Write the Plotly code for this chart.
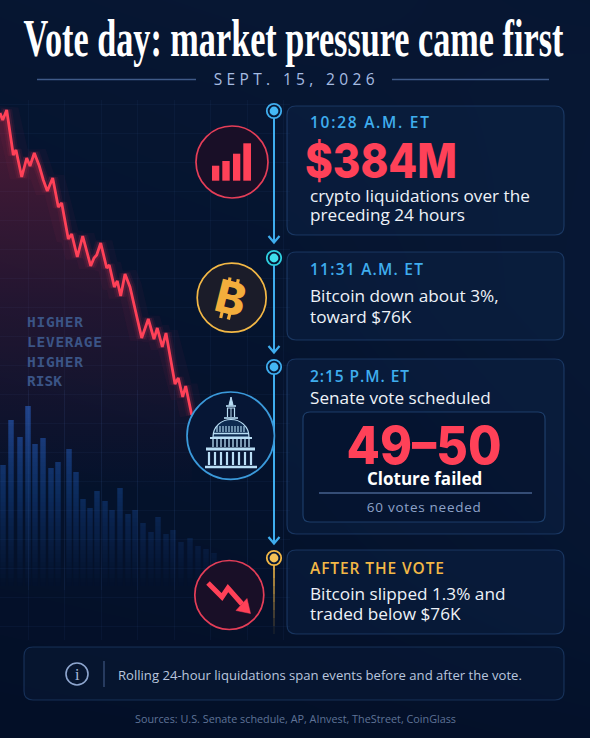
import json
import numpy as np
import plotly.graph_objects as go

# values
price_t = [0,2.7,6.7,13.3,16,21.7,26.7,30,34.3,39.3,43.3,47.3,52.7,58.3,61.7,68.3,71.7,77.3,82.7,90.7,94,96.7,100.7,106.7,109.3,114.3,117.3,120.7,125,130,141.7,148.3,154,157.3,162.3,166,175,178.3,182.7,185.7,191.7]
price = [527,520,530,485,490,463,482,474,487,474,460,449,462,433,437,401,406,383,404,374,382,385,397,372,375,353,359,344,366,353,302,321,301,312,293,307,256,262,243,254,225]
vol_t = [3,11,20,28,35,43,51,58,69,76,83,90,97,105,112,120,128,135,143,151,158,166,173,181,190,198,206,214]
volume = [125,170,153,184,146,152,122,128,141,118,91,82,99,89,80,102,76,80,67,58,73,56,60,48,52,44,41,37]
bg_x = [0,295,590]
bg_y = [0,90,300,560,738]
bg_z = [[0.62,0.72,0.62],[0.55,0.62,0.72],[0.45,0.50,0.75],[0.30,0.35,0.55],[0.18,0.22,0.30]]

RED = "#ff4158"
BLUE = "#3fadee"
TEAL = "#2fcfe0"
GOLD = "#f3b846"
WHITE = "#eef2f8"
SANS = "Open Sans"

# widths plotly has no setting for: text -> [width in px, how, keep left edge]
FIT = {
    "Vote day: market pressure came first": [540, "spacingAndGlyphs", False],
    "$384M": [152, "spacingAndGlyphs", True],
    "49–50": [155, "spacingAndGlyphs", False],
    "SEPT. 15, 2026": [161, "spacing", False],
    "10:28 A.M. ET": [119, "spacing", True],
    "11:31 A.M. ET": [113, "spacing", True],
    "2:15 P.M. ET": [99, "spacing", True],
    "AFTER THE VOTE": [134, "spacing", True],
    "60 votes needed": [114, "spacing", False],
    "HIGHER": [56, "spacing", True],
    "LEVERAGE": [75, "spacing", True],
    "RISK": [35, "spacing", True],
}
FIX_JS = """
document.body.style.margin = '0';
var fit = %s;
document.querySelectorAll('.annotation-text').forEach(function (t) {
  var f = fit[t.textContent];
  if (!f) return;
  var x0 = t.getBBox().x;
  t.setAttribute('textLength', f[0]);
  t.setAttribute('lengthAdjust', f[1]);
  if (f[2]) t.setAttribute('x', parseFloat(t.getAttribute('x')) + x0 - t.getBBox().x);
  var box = t.closest('.annotation').querySelector('rect.bg');
  if (box) { var b = t.getBBox(); box.setAttribute('x', b.x); box.setAttribute('width', b.width); }
});
""" % json.dumps(FIT)

def rr(x0, y0, x1, y1, r):
    return (f"M{x0+r},{y0} H{x1-r} Q{x1},{y0} {x1},{y0+r} V{y1-r} Q{x1},{y1} {x1-r},{y1} "
            f"H{x0+r} Q{x0},{y1} {x0},{y1-r} V{y0+r} Q{x0},{y0} {x0+r},{y0} Z")

fig = go.Figure()
shapes = []
notes = []

def card(x0, y0, x1, y1, fill="rgba(18,44,84,0.30)", border="rgba(44,84,140,0.5)", r=9):
    shapes.append(dict(type="path", path=rr(x0, y0, x1, y1, r), fillcolor=fill,
                       line=dict(color=border, width=1.2), layer="above"))

def circle(cx, cy, r, stroke, fill, width=1.7):
    shapes.append(dict(type="circle", x0=cx-r, x1=cx+r, y0=cy-r, y1=cy+r, fillcolor=fill,
                       line=dict(color=stroke, width=width), layer="above"))

def line(x0, y0, x1, y1, color, width=2, opacity=1):
    shapes.append(dict(type="line", x0=x0, x1=x1, y0=y0, y1=y1, opacity=opacity,
                       line=dict(color=color, width=width), layer="above"))

def path(d, color, width=1.2, fill=None):
    s = dict(type="path", path=d, line=dict(color=color, width=width), layer="above")
    if fill:
        s["fillcolor"] = fill
    shapes.append(s)

def label(x, y, s, size, color=WHITE, anchor="left", family=SANS, weight=400, angle=0):
    notes.append(dict(x=x, y=y, xref="x", yref="y", text=s, showarrow=False, xanchor=anchor,
                      yanchor="middle", textangle=angle,
                      font=dict(size=size, color=color, family=family, weight=weight)))

# background
fig.add_trace(go.Heatmap(x=bg_x, y=bg_y, z=bg_z, zmin=0, zmax=1, zsmooth="best", showscale=False,
                         colorscale=[[0,"#020c22"],[0.5,"#05142f"],[1,"#0a1b39"]], hoverinfo="skip"))

# volume bars, cut in thin slices so they fade out towards the bottom
for lev in range(0, 200, 4):
    alpha = 0.88 * (lev / 190) ** 1.05
    fig.add_trace(go.Bar(x=vol_t, y=np.clip(np.array(volume) - lev, 0, 4), base=lev, width=5.5,
                         marker=dict(color=f"rgba(24,78,160,{alpha:.3f})", line=dict(width=0)),
                         xaxis="x2", yaxis="y2", hoverinfo="skip"))

# price line with glow
fig.add_trace(go.Scatter(x=price_t, y=price, mode="lines", line=dict(color="rgba(0,0,0,0)", width=0),
                         fill="tozeroy", xaxis="x2", yaxis="y3", hoverinfo="skip",
                         fillgradient=dict(type="vertical", start=150, stop=530,
                                           colorscale=[[0,"rgba(255,40,70,0)"],[0.5,"rgba(255,40,70,0.12)"],[1,"rgba(255,40,70,0.28)"]])))
for w, a in [(24,0.04),(11,0.07),(7,0.13)]:
    fig.add_trace(go.Scatter(x=price_t, y=price, mode="lines", line=dict(color=f"rgba(255,60,90,{a})", width=w),
                             xaxis="x2", yaxis="y3", hoverinfo="skip"))
fig.add_trace(go.Scatter(x=price_t, y=price, mode="lines", line=dict(color=RED, width=2.8),
                         xaxis="x2", yaxis="y3", hoverinfo="skip"))

# header
label(293.5, 38, "Vote day: market pressure came first", 52, "#ffffff", "center", "Liberation Serif", 700)
label(294, 79, "SEPT. 15, 2026", 15.5, "#a6bce2", "center")
line(37, 79.5, 196, 79.5, "#3f5a88", 1.5)
line(392, 79.5, 549, 79.5, "#3f5a88", 1.5)

# side text
for yy, s in zip([322,342,362,381], ["HIGHER","LEVERAGE","HIGHER","RISK"]):
    label(25, yy, s, 14.5, "#3b5486", family="DejaVu Sans Mono", weight=700)

# cards
card(287, 106, 564, 235)
card(287, 252, 564, 340)
card(287, 359, 564, 534)
card(303, 412, 545, 522, fill="rgba(4,16,42,0.55)", border="rgba(48,92,150,0.55)", r=7)
card(287, 550, 564, 634)
card(24, 647, 564, 700, fill="rgba(12,32,66,0.30)", border="rgba(44,84,140,0.45)")
line(319, 493, 532, 493, "#46618e", 1.5)

label(307.5, 122, "10:28 A.M. ET", 15.5, BLUE, weight=600)
label(303, 160, "$384M", 48, RED, family="Inter", weight=800)
label(307.5, 195, "crypto liquidations over the", 17.2, WHITE)
label(307.5, 214, "preceding 24 hours", 17.2, WHITE)
label(307.5, 269, "11:31 A.M. ET", 15.5, BLUE, weight=600)
label(307.5, 295, "Bitcoin down about 3%,", 17.2, WHITE)
label(307.5, 316, "toward $76K", 17.2, WHITE)
label(307.5, 376, "2:15 P.M. ET", 15.5, BLUE, weight=600)
label(307.5, 397, "Senate vote scheduled", 17.2, WHITE)
label(424, 445, "49–50", 52, RED, "center", "Inter", 800)
label(424, 478, "Cloture failed", 17, "#ffffff", "center", weight=700)
label(424, 507, "60 votes needed", 13.5, "#8da2c8", "center")
label(307.5, 568, "AFTER THE VOTE", 15.5, GOLD, weight=600)
label(307.5, 593, "Bitcoin slipped 1.3% and", 17.2, WHITE)
label(307.5, 613, "traded below $76K", 17.2, WHITE)

# footer
circle(77, 674, 11, "#8ea6cf", "rgba(0,0,0,0)", 1.6)
label(77, 674, "i", 16, "#a9bcdc", "center", "Liberation Serif")
line(104, 661, 104, 687, "#3d5580", 1.2)
label(115.5, 675, "Rolling 24-hour liquidations span events before and after the vote.", 13.1, "#b9c6de")
label(295, 718, "Sources: U.S. Senate schedule, AP, AInvest, TheStreet, CoinGlass", 10.8, "#5f7397", "center")

# timeline
line(274, 111, 274, 241, BLUE, 2)
path("M268.5,236 L274,242.5 L279.5,236", BLUE, 2.2)
line(274, 258, 274, 351, BLUE, 2)
path("M268.5,346 L274,352.5 L279.5,346", BLUE, 2.2)
line(274, 367, 274, 542, BLUE, 2)
path("M268.5,537 L274,543.5 L279.5,537", BLUE, 2.2)
for i, yy in enumerate(range(562, 634, 8)):
    line(274, yy, 274, yy + 8, GOLD, 1.8, opacity=max(0.05, 0.95 - i * 0.11))
for yy, col, inner in [(111,BLUE,"#45b8f5"),(258,TEAL,"#3fe0ee"),(367,BLUE,"#45b8f5"),(558,GOLD,"#f6c257")]:
    circle(274, yy, 7.2, col, "#071836", 1.8)
    circle(274, yy, 4.4, inner, inner, 0)

# icon: rising bars
circle(232, 162, 36, "#e53e58", "#190f27")
for x0, x1, top in [(212,219.3,165.7),(222.3,229.7,161),(233,240.3,153.7),(243.3,251,143.3)]:
    shapes.append(dict(type="rect", x0=x0, x1=x1, y0=top, y1=180.7, fillcolor=RED, line=dict(width=0), layer="above"))

# icon: bitcoin, a tilted B with its four ticks
circle(231.7, 297.7, 34.5, GOLD, "#1b1c29")
for xa, ya, xb, yb in [(230,277.5,229,283),(238.3,279.3,237.3,284.5),(222.3,311,220.7,318),(230,313,228.3,319.5)]:
    line(xa, ya, xb, yb, "#f3ae3c", 3.2)
label(230.5, 297.5, "B", 45, "#f3ae3c", "center", "Inter", 800, angle=14)

# icon: capitol
CAP = "#b9def5"
circle(230.7, 435.7, 43.7, "#3b9adb", "#061635")
path("M231,397 L229,405 L233,405 Z", CAP, 1, CAP)
path("M227.5,417 V408 H234.5 V417", CAP, 1.2)
line(226, 406, 236, 406, CAP, 1.6)
line(231, 408, 231, 417, CAP, 1)
line(224, 418, 238, 418, CAP, 1.6)
path("M213,437 C213,426 222,419.5 231,419.5 C240,419.5 249,426 249,437 Z", CAP, 1.2, "#0d2a50")
for xx in [217,220,223,226,229,232,235,238,241,244]:
    line(xx, 426, xx, 432, CAP, 1.1)
line(213, 433.5, 249, 433.5, CAP, 1.4)
line(210, 438, 252, 438, CAP, 2)
for xx in range(213, 252, 4):
    line(xx, 439, xx, 447, CAP, 1.3)
line(206, 449, 255, 449, CAP, 3)
for xx in range(209, 256, 6):
    line(xx, 452, xx, 465, CAP, 2.2)
line(205, 467, 257, 467, CAP, 2.4)

# icon: falling arrow
circle(229.3, 595, 34.5, "#e53e58", "#190f27")
path("M208,583 L222,597 L228,588 L242,604", RED, 5)
path("M250.5,613.5 L236,610.5 L247,598.5 Z", RED, 0.5, RED)

fig.update_layout(
    width=590, height=738, margin=dict(l=0, r=0, t=0, b=0), showlegend=False, barmode="overlay",
    paper_bgcolor="#04122c", plot_bgcolor="rgba(0,0,0,0)", shapes=shapes, annotations=notes,
    xaxis=dict(range=[0,590], domain=[0,1], visible=False, fixedrange=True),
    yaxis=dict(range=[738,0], domain=[0,1], visible=False, fixedrange=True),
    xaxis2=dict(range=[0,290], domain=[0,290/590], anchor="y3", showticklabels=False, ticks="", zeroline=False,
                showgrid=True, tick0=28, dtick=36.5, gridcolor="rgba(70,115,180,0.07)", gridwidth=1),
    yaxis2=dict(range=[0,200], domain=[148/738,348/738], anchor="x2", visible=False),
    yaxis3=dict(range=[0,540], domain=[98/738,638/738], anchor="x2", showticklabels=False, ticks="", zeroline=False,
                showgrid=True, tick0=14, dtick=29, gridcolor="rgba(70,115,180,0.07)", gridwidth=1),
)
fig.write_html("out.html", post_script=FIX_JS, config={"displayModeBar": False})
